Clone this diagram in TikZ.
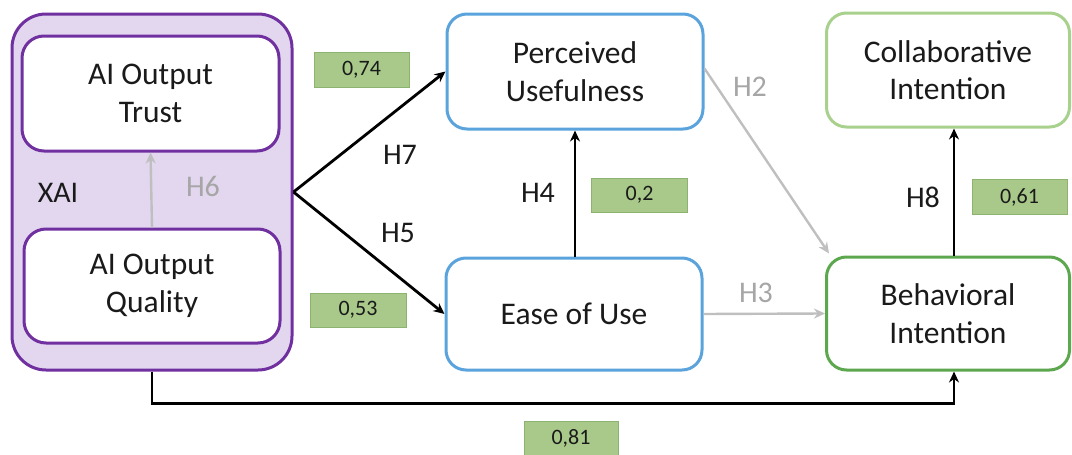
\documentclass[tikz,border=0pt]{standalone}
\usepackage{fontspec}
\setmainfont{Carlito}
\usetikzlibrary{arrows.meta,calc}
\definecolor{xpurple}{HTML}{7030A0}
\definecolor{xpurplefill}{HTML}{E2D7EF}
\definecolor{xblue}{HTML}{5BA3DC}
\definecolor{xlgreen}{HTML}{A9D18E}
\definecolor{xdgreen}{HTML}{5DA84E}
\definecolor{xvalfill}{HTML}{A8C98A}
\definecolor{xvalborder}{HTML}{8DB371}
\definecolor{xgray}{HTML}{BFBFBF}
\definecolor{xlabgray}{HTML}{A6A6A6}
\definecolor{xtext}{HTML}{1A1A1A}
\tikzset{
  x=1pt,y=-1pt,
  every node/.style={text=xtext},
  bigtext/.style={font=\fontsize{31.5}{37.5}\selectfont, align=center},
  outerbox/.style={draw=xpurple, fill=xpurplefill, line width=3pt, rounded corners=34pt},
  innerbox/.style={bigtext, draw=xpurple, fill=white, line width=3pt, rounded corners=22pt},
  bluebox/.style={bigtext, draw=xblue, fill=white, line width=3pt, rounded corners=20pt},
  lgbox/.style={bigtext, draw=xlgreen, fill=white, line width=3pt, rounded corners=20pt},
  dgbox/.style={bigtext, draw=xdgreen, fill=white, line width=3pt, rounded corners=20pt},
  valbox/.style={draw=xvalborder, fill=xvalfill, line width=1pt, font=\fontsize{22}{26}\selectfont},
  hlab/.style={font=\fontsize{30}{34}\selectfont},
  hlabgray/.style={hlab, text=xlabgray},
  blackarrow/.style={draw=black, line width=2.8pt, -{Stealth[length=11pt,width=10pt]}},
  grayarrow/.style={draw=xgray, line width=2.4pt, -{Stealth[length=11pt,width=10pt]}},
}
\begin{document}
\begin{tikzpicture}
\useasboundingbox (0,0) rectangle (1072,455);
% XAI group
\node[outerbox, minimum width=280pt, minimum height=356pt] (xai) at (152,192) {};
\node[innerbox, minimum width=257pt, minimum height=115pt] (trust) at (150.5,93.5) {AI Output\\Trust};
\node[innerbox, minimum width=256pt, minimum height=114pt] (quality) at (152,286) {AI Output\\Quality};
\node[hlab] (xailab) at (58,193) {XAI};
% TAM boxes
\node[bluebox, minimum width=256pt, minimum height=115pt] (pu) at (575,71.5) {Perceived\\Usefulness};
\node[bluebox, minimum width=256pt, minimum height=112pt] (eou) at (574,314) {Ease of Use};
\node[lgbox, minimum width=243pt, minimum height=114pt] (ci) at (948,70) {Collaborative\\Intention};
\node[dgbox, minimum width=243pt, minimum height=113pt] (bi) at (948,313.5) {Behavioral\\Intention};
% value boxes
\node[valbox, minimum width=95pt, minimum height=35pt] (v074) at (361.5,69.5) {0,74};
\node[valbox, minimum width=96pt, minimum height=34pt] (v053) at (358,310) {0,53};
\node[valbox, minimum width=96pt, minimum height=34pt] (v02) at (639.5,195) {0,2};
\node[valbox, minimum width=95pt, minimum height=35pt] (v061) at (1019.5,197) {0,61};
\node[valbox, minimum width=94pt, minimum height=34pt] (v081) at (571,438) {0,81};
% labels
\node[hlabgray] (h6) at (203,186) {H6};
\node[hlab] (h7) at (400,155) {H7};
\node[hlab] (h5) at (398,233) {H5};
\node[hlab] (h4) at (538,193) {H4};
\node[hlab] (h8) at (923,197) {H8};
\node[hlabgray] (h2) at (750,87) {H2};
\node[hlabgray] (h3) at (756,293) {H3};
% connectors
\draw[grayarrow] (quality.north) -- (trust.south);
\draw[blackarrow] (xai.east) -- (pu.west);
\draw[blackarrow] (xai.east) -- (eou.west);
\draw[blackarrow] ([xshift=1pt]eou.north) -- ([xshift=1pt]eou.north |- pu.south);
\draw[grayarrow] ([yshift=3pt]pu.east) -- ([xshift=4pt,yshift=2pt]bi.north west);
\draw[grayarrow] (eou.east) -- (bi.west);
\draw[blackarrow] ([xshift=6pt]bi.north) -- ([xshift=6pt]bi.north |- ci.south);
\coordinate (bend) at ($(xai.south)+(0,32)$);
\draw[blackarrow] (xai.south) -- (bend) -| ([xshift=6pt]bi.south);
\end{tikzpicture}
\end{document}
